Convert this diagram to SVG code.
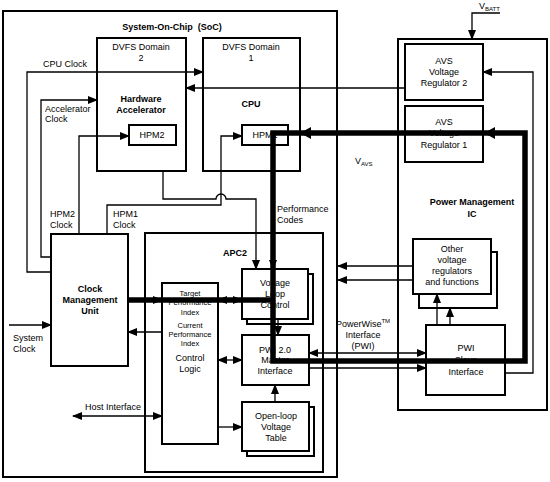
<svg xmlns="http://www.w3.org/2000/svg" width="550" height="482" viewBox="0 0 550 482">
<defs>
<marker id="ah" markerUnits="userSpaceOnUse" markerWidth="10" markerHeight="8" refX="9" refY="4" orient="auto-start-reverse"><path d="M0,0 L10,4 L0,8 Z" fill="#000"/></marker>
<style>
text{font-family:"Liberation Sans",Arial,sans-serif;fill:#000;font-size:9px;text-anchor:middle}
.b{font-weight:bold}
.l{text-anchor:start}
.s{font-size:7.5px}
.box{fill:#fff;stroke:#000;stroke-width:2}
.cont{fill:none;stroke:#000;stroke-width:2}
.w{fill:none;stroke:#000;stroke-width:1.3}
.th{fill:none;stroke:#000;stroke-width:5.5;stroke-linejoin:miter}
</style>
</defs>
<rect width="550" height="482" fill="#fff"/>

<g id="soc"><rect x="3" y="11" width="334" height="466" class="cont" stroke-width="2.5"/>
<text x="172" y="30" class="b" font-size="10">System-On-Chip&#160; (SoC)</text></g>

<g id="dvfs2"><rect x="97" y="38" width="89" height="133" class="box"/>
<text x="141" y="50">DVFS Domain</text><text x="141" y="61">2</text>
<text x="141" y="102" class="b">Hardware</text><text x="141" y="113" class="b">Accelerator</text></g>

<g id="dvfs1"><rect x="203" y="38" width="97" height="133" class="box"/>
<text x="251" y="50">DVFS Domain</text><text x="251" y="61">1</text>
<text x="251" y="107" class="b">CPU</text></g>

<g id="hpm2"><rect x="129" y="125" width="47" height="20" class="box"/><text x="152" y="138" font-size="8.5">HPM2</text></g>
<g id="hpm1"><rect x="242" y="125" width="46" height="20" class="box"/><text x="265" y="138" font-size="8.5">HPM1</text></g>

<g id="cmu"><rect x="51" y="234" width="77" height="132" class="box"/>
<text x="90" y="292" class="b">Clock</text><text x="90" y="303" class="b">Management</text><text x="90" y="314" class="b">Unit</text></g>

<g id="apc2"><rect x="145" y="233" width="178" height="239" class="cont"/>
<text x="235" y="256" class="b" font-size="9.5">APC2</text></g>

<g id="control"><rect x="162" y="283" width="56" height="161" class="box"/>
<text x="190" y="296" class="s">Target</text><text x="190" y="305" class="s">Performance</text><text x="190" y="315" class="s">Index</text>
<text x="190" y="328" class="s">Current</text><text x="190" y="337" class="s">Performance</text><text x="190" y="346" class="s">Index</text>
<text x="190" y="361">Control</text><text x="190" y="372">Logic</text></g>

<g id="vlc"><rect x="247" y="274" width="66" height="50" class="box"/><rect x="242" y="269" width="66" height="50" class="box"/>
<text x="275" y="286">Voltage</text><text x="275" y="297">Loop</text><text x="275" y="308">Control</text></g>

<g id="pwim"><rect x="242" y="335" width="67" height="50" class="box"/>
<text x="275" y="353">PWI 2.0</text><text x="275" y="363">Master</text><text x="275" y="374">Interface</text></g>

<g id="olvt"><rect x="247" y="407" width="67" height="49" class="box"/><rect x="242" y="402" width="67" height="49" class="box"/>
<text x="276" y="419">Open-loop</text><text x="276" y="430">Voltage</text><text x="276" y="441">Table</text></g>

<g id="pmic"><rect x="398" y="39" width="149" height="371" class="cont"/>
<text x="472" y="205" class="b" font-size="9.5">Power Management</text><text x="472" y="217" class="b" font-size="9.5">IC</text></g>

<g id="avs2"><rect x="405" y="44" width="78" height="56" class="box"/>
<text x="444" y="64">AVS</text><text x="444" y="75">Voltage</text><text x="444" y="86">Regulator 2</text></g>

<g id="avs1"><rect x="405" y="106" width="78" height="56" class="box"/>
<text x="444" y="125">AVS</text><text x="444" y="136">Voltage</text><text x="444" y="148">Regulator 1</text></g>

<g id="other"><rect x="419" y="252" width="78" height="56" class="box"/><rect x="413" y="239" width="78" height="55" class="box"/>
<text x="452" y="252">Other</text><text x="452" y="263">voltage</text><text x="452" y="274">regulators</text><text x="452" y="285">and functions</text></g>

<g id="pwis"><rect x="426" y="325" width="79" height="70" class="box"/>
<text x="466" y="351">PWI</text><text x="466" y="363">Slave</text><text x="466" y="375">Interface</text></g>

<g id="connectors">
<path class="w" d="M51,272 H27 V72 H203" marker-end="url(#ah)"/>
<path class="w" d="M51,257 H41 V100 H97" marker-end="url(#ah)"/>
<path class="w" d="M79,234 V136 H129" marker-end="url(#ah)"/>
<path class="w" d="M107,234 V205 H221 V136 H242" marker-end="url(#ah)"/>
<path class="w" d="M163,171 V199 H216 A5,5 0 0 1 226,199 H256 V269" marker-end="url(#ah)"/>
<path class="w" d="M405,88 H186" marker-end="url(#ah)"/>
<path class="w" d="M505,373 H533 V72 H483" marker-end="url(#ah)"/>
<path class="w" d="M500,13 H472 V39" marker-end="url(#ah)"/>
<path class="w" d="M413,266 H338" marker-end="url(#ah)"/>
<path class="w" d="M413,280 H338" marker-end="url(#ah)"/>
<path class="w" d="M437,325 V294" marker-end="url(#ah)"/>
<path class="w" d="M450,325 V308" marker-end="url(#ah)"/>
<path class="w" d="M309,353 H426" marker-start="url(#ah)" marker-end="url(#ah)"/>
<path class="w" d="M309,368 H426" marker-end="url(#ah)"/>
<path class="w" d="M218,300 H242" marker-start="url(#ah)" marker-end="url(#ah)"/>
<path class="w" d="M218,360 H242" marker-start="url(#ah)" marker-end="url(#ah)"/>
<path class="w" d="M218,427 H242" marker-end="url(#ah)"/>
<path class="w" d="M275,402 V385" marker-end="url(#ah)"/>
<path class="w" d="M278,319 V335" marker-end="url(#ah)"/>
<path class="w" d="M162,332 H128" marker-end="url(#ah)"/>
<path class="w" d="M73,416 H162" marker-start="url(#ah)" marker-end="url(#ah)"/>
<path class="w" d="M9,325 H51" marker-end="url(#ah)"/>
<path class="th" d="M128,300 H273"/>
<path class="w" d="M150,300 H162" marker-end="url(#ah)"/>
<path class="th" d="M273,133 V361 H525 V133 Z"/>
<path class="w" d="M273,255 V269" marker-end="url(#ah)"/>
<path d="M300,133 L311,127 L311,139 Z M484,133 L495,127 L495,139 Z" fill="#000"/>
</g>

<g id="labels">
<text x="43" y="67" class="l">CPU Clock</text>
<text x="45" y="112" class="l">Accelerator</text><text x="45" y="122" class="l">Clock</text>
<text x="50" y="217" class="l">HPM2</text><text x="50" y="228" class="l">Clock</text>
<text x="113" y="217" class="l">HPM1</text><text x="113" y="228" class="l">Clock</text>
<text x="277" y="212" class="l">Performance</text><text x="277" y="223" class="l">Codes</text>
<text x="13" y="341" class="l">System</text><text x="13" y="352" class="l">Clock</text>
<text x="85" y="410" class="l">Host Interface</text>
<text x="363" y="327">PowerWise<tspan font-size="6" dy="-4">TM</tspan></text>
<text x="363" y="338">Interface</text><text x="363" y="349">(PWI)</text>
<text x="355" y="164" class="l">V<tspan font-size="6" dy="2">AVS</tspan></text>
<text x="479" y="9" class="l">V<tspan font-size="6" dy="2">BATT</tspan></text>
</g>
</svg>
